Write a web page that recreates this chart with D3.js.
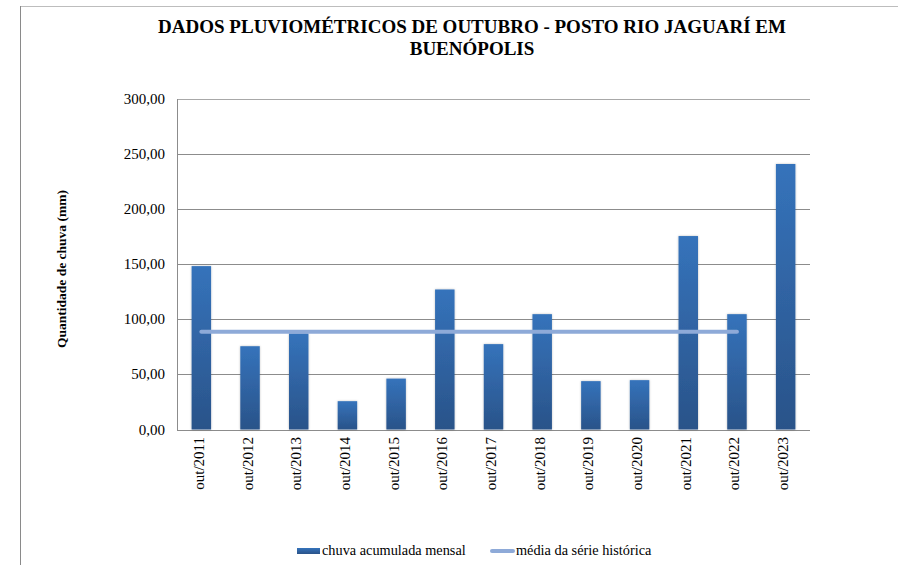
<!DOCTYPE html>
<html>
<head>
<meta charset="utf-8">
<script src="https://cdn.jsdelivr.net/npm/d3@7"></script>
<style>
  html, body { margin: 0; padding: 0; background: #fff; }
</style>
</head>
<body>
<svg id="chart" width="898" height="565"></svg>
<script>
// October rainfall, Rio Jaguarí station in Buenópolis
const categories = ['out/2011', 'out/2012', 'out/2013', 'out/2014', 'out/2015', 'out/2016', 'out/2017',
  'out/2018', 'out/2019', 'out/2020', 'out/2021', 'out/2022', 'out/2023'];
const rainValues = [148.3, 75.6, 87.2, 25.7, 46.2, 127.1, 77.5, 104.7, 43.9, 44.8, 175.6, 104.7, 241.0];
// historical mean, plotted for 2011..2022
const meanValues = [88.7, 88.7, 88.7, 88.7, 88.7, 88.7, 88.7, 88.7, 88.7, 88.7, 88.7, 88.7];
const yTicks = [0, 50, 100, 150, 200, 250, 300];

const FONT = '"Liberation Serif", "Times New Roman", serif';

const svg = d3.select('#chart');
const margin = { left: 177, right: 810, top: 99, bottom: 429.5 };

// outer chart border (only top/left visible in the frame)
svg.append('line').attr('x1', 20).attr('x2', 898).attr('y1', 6.5).attr('y2', 6.5)
  .attr('stroke', '#bdbdbd').attr('stroke-width', 1);
svg.append('line').attr('x1', 20.5).attr('x2', 20.5).attr('y1', 6).attr('y2', 565)
  .attr('stroke', '#8a8a8a').attr('stroke-width', 1);

const x = d3.scaleBand().domain(categories).range([margin.left, margin.right]).paddingInner(0.6).paddingOuter(0.3);
const xc = d3.scaleBand().domain(categories).range([margin.left, margin.right]);
const y = d3.scaleLinear().domain([0, 300]).range([margin.bottom, margin.top]);

// gradient for bars
const defs = svg.append('defs');
const grad = defs.append('linearGradient').attr('id', 'barGrad')
  .attr('x1', 0).attr('y1', 0).attr('x2', 0).attr('y2', 1);
grad.append('stop').attr('offset', '0%').attr('stop-color', '#3573bb');
grad.append('stop').attr('offset', '100%').attr('stop-color', '#2a5389');

const shadow = defs.append('filter').attr('id', 'shadow').attr('x', '-30%').attr('y', '-5%')
  .attr('width', '160%').attr('height', '110%');
shadow.append('feDropShadow').attr('dx', 0).attr('dy', 0).attr('stdDeviation', 1)
  .attr('flood-color', '#000').attr('flood-opacity', 0.25);

// gridlines
svg.append('g').selectAll('line')
  .data(yTicks)
  .join('line')
  .attr('x1', margin.left).attr('x2', margin.right)
  .attr('y1', d => Math.round(y(d)) + 0.5).attr('y2', d => Math.round(y(d)) + 0.5)
  .attr('stroke', d => d === 300 ? '#a8a8a8' : '#8c8c8c')
  .attr('stroke-width', 1);

// y axis line
svg.append('line').attr('x1', margin.left + 0.5).attr('x2', margin.left + 0.5)
  .attr('y1', margin.top).attr('y2', margin.bottom + 1)
  .attr('stroke', '#8c8c8c');

// y tick labels
const fmt = v => d3.format('.2f')(v).replace('.', ',');
svg.append('g').selectAll('text')
  .data(yTicks)
  .join('text')
  .attr('x', 165)
  .attr('y', d => y(d) + 5)
  .attr('text-anchor', 'end')
  .attr('font-family', FONT)
  .attr('font-size', '15px')
  .text(fmt);

// bars
svg.append('g').selectAll('rect')
  .data(rainValues)
  .join('rect')
  .attr('x', (d, i) => x(categories[i]))
  .attr('width', x.bandwidth())
  .attr('y', d => y(d))
  .attr('height', d => y(0) - y(d))
  .attr('fill', 'url(#barGrad)')
  .attr('filter', 'url(#shadow)');

// mean line
const line = d3.line()
  .x((d, i) => xc(categories[i]) + xc.bandwidth() / 2)
  .y(d => y(d));
svg.append('path')
  .datum(meanValues)
  .attr('d', line)
  .attr('fill', 'none')
  .attr('stroke', '#8eaad8')
  .attr('stroke-width', 4)
  .attr('stroke-linecap', 'round');

// x labels
svg.append('g').selectAll('text')
  .data(categories)
  .join('text')
  .attr('transform', d => 'translate(' + (xc(d) + xc.bandwidth() / 2 + 2.5) + ',437) rotate(-90)')
  .attr('text-anchor', 'end')
  .attr('font-family', FONT)
  .attr('font-size', '15px')
  .text(d => d);

// y axis title
svg.append('text')
  .attr('transform', 'translate(66,269) rotate(-90)')
  .attr('text-anchor', 'middle')
  .attr('font-family', FONT)
  .attr('font-size', '13.5px')
  .attr('font-weight', 'bold')
  .text('Quantidade de chuva (mm)');

// title
const title = svg.append('text')
  .attr('text-anchor', 'middle')
  .attr('font-family', FONT)
  .attr('font-size', '19px')
  .attr('font-weight', 'bold');
title.append('tspan').attr('x', 472).attr('y', 33).text('DADOS PLUVIOMÉTRICOS DE OUTUBRO - POSTO RIO JAGUARÍ EM');
title.append('tspan').attr('x', 472).attr('y', 55).text('BUENÓPOLIS');

// legend
const legend = svg.append('g');
legend.append('rect').attr('x', 297).attr('y', 548).attr('width', 23).attr('height', 6)
  .attr('fill', 'url(#barGrad)');
legend.append('text').attr('x', 322).attr('y', 555)
  .attr('font-family', FONT).attr('font-size', '14.3px').text('chuva acumulada mensal');
legend.append('line').attr('x1', 492).attr('x2', 513).attr('y1', 551).attr('y2', 551)
  .attr('stroke', '#8eaad8').attr('stroke-width', 4).attr('stroke-linecap', 'round');
legend.append('text').attr('x', 516).attr('y', 555)
  .attr('font-family', FONT).attr('font-size', '14.3px').text('média da série histórica');
</script>
</body>
</html>
